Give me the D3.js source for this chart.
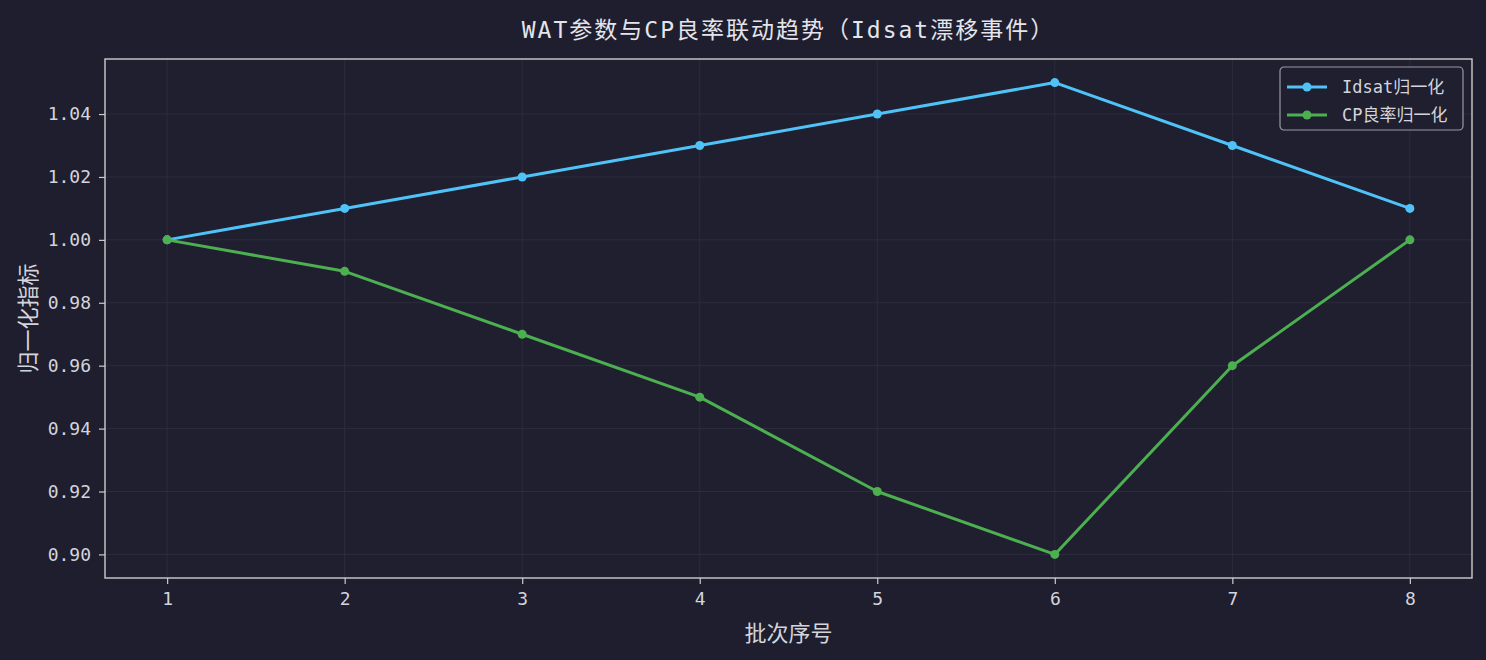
<!DOCTYPE html>
<html>
<head>
<meta charset="utf-8">
<script src="https://cdn.jsdelivr.net/npm/d3@7"></script>
<style>
  html, body { margin: 0; padding: 0; background: #1e1e2e; }
  svg text { font-family: "DejaVu Sans Mono", "Noto Sans CJK SC", sans-serif; }
</style>
</head>
<body>
<div id="chart-area"></div>
<script>
// data
let batches = [1, 2, 3, 4, 5, 6, 7, 8];
let idsatNorm = [1.00, 1.01, 1.02, 1.03, 1.04, 1.05, 1.03, 1.01];
let cpYieldNorm = [1.00, 0.99, 0.97, 0.95, 0.92, 0.90, 0.96, 1.00];
let yTicks = [0.90, 0.92, 0.94, 0.96, 0.98, 1.00, 1.02, 1.04];
let seriesNames = ['Idsat归一化', 'CP良率归一化'];
let seriesColors = ['#4fc3f7', '#4caf50'];

//**************** Canvas *****************//
let W = 1486, H = 660;
let margin = { left: 105, right: 14, top: 59, bottom: 82 };
let width = W - margin.left - margin.right,
    height = H - margin.top - margin.bottom;

let svg = d3.select('#chart-area').append('svg')
  .attr('width', W)
  .attr('height', H);

svg.append('rect').attr('width', W).attr('height', H).attr('fill', '#1e1e2e');

let g = svg.append('g')
  .attr('transform', 'translate(' + margin.left + ', ' + margin.top + ')');

g.append('rect').attr('width', width).attr('height', height).attr('fill', '#1f1f2f');

//**************** Scales *****************//
let x = d3.scaleLinear().domain([0.65, 8.35]).range([0, width]);
let y = d3.scaleLinear().domain([0.8925, 1.0575]).range([height, 0]);

// grid
g.append('g').selectAll('line').data(batches).enter().append('line')
  .attr('x1', d => x(d)).attr('x2', d => x(d))
  .attr('y1', 0).attr('y2', height)
  .attr('stroke', '#2c2c3e').attr('stroke-width', 1);
g.append('g').selectAll('line').data(yTicks).enter().append('line')
  .attr('x1', 0).attr('x2', width)
  .attr('y1', d => y(d)).attr('y2', d => y(d))
  .attr('stroke', '#2c2c3e').attr('stroke-width', 1);

// axes
let xAxis = g.append('g')
  .attr('transform', 'translate(0, ' + height + ')')
  .call(d3.axisBottom(x).tickValues(batches).tickFormat(d3.format('d')).tickSizeOuter(0).tickSize(6).tickPadding(8));
let yAxis = g.append('g')
  .call(d3.axisLeft(y).tickValues(yTicks).tickFormat(d3.format('.2f')).tickSizeOuter(0).tickSize(6).tickPadding(8));

[xAxis, yAxis].forEach(a => {
  a.select('.domain').remove();
  a.selectAll('.tick line').attr('stroke', '#cccccc').attr('stroke-width', 1.2);
  a.selectAll('.tick text').attr('fill', '#d4d4dc').attr('font-size', '18px');
});

// frame
g.append('rect').attr('width', width).attr('height', height)
  .attr('fill', 'none').attr('stroke', '#cccccc').attr('stroke-width', 1.4);

//**************** Lines *****************//
let allSeries = [idsatNorm, cpYieldNorm];
let line = d3.line().x((d, i) => x(batches[i])).y(d => y(d));

allSeries.forEach((s, k) => {
  g.append('path').datum(s)
    .attr('d', line)
    .attr('fill', 'none')
    .attr('stroke', seriesColors[k])
    .attr('stroke-width', 3)
    .attr('stroke-linejoin', 'round');
  g.append('g').selectAll('circle').data(s).enter().append('circle')
    .attr('cx', (d, i) => x(batches[i]))
    .attr('cy', d => y(d))
    .attr('r', 4.5)
    .attr('fill', seriesColors[k]);
});

//**************** Labels *****************//
svg.append('text')
  .attr('x', margin.left + width / 2).attr('y', 38)
  .attr('text-anchor', 'middle')
  .attr('font-size', '23px')
  .attr('letter-spacing', '2px')
  .attr('fill', '#e4e4ec')
  .text('WAT参数与CP良率联动趋势（Idsat漂移事件）');

svg.append('text')
  .attr('x', margin.left + width / 2).attr('y', 641)
  .attr('text-anchor', 'middle')
  .attr('font-size', '22px')
  .attr('fill', '#d4d4dc')
  .text('批次序号');

svg.append('text')
  .attr('transform', 'translate(36, ' + (margin.top + height / 2) + ') rotate(-90)')
  .attr('text-anchor', 'middle')
  .attr('font-size', '22px')
  .attr('fill', '#d4d4dc')
  .text('归一化指标');

//**************** Legend *****************//
let legend = svg.append('g').attr('transform', 'translate(1280, 67)');
legend.append('rect')
  .attr('width', 183).attr('height', 63).attr('rx', 4)
  .attr('fill', '#1f1f2f').attr('stroke', '#9a9aa4').attr('stroke-width', 1.2);

seriesNames.forEach((name, k) => {
  let row = legend.append('g').attr('transform', 'translate(0, ' + (20 + k * 28) + ')');
  row.append('line').attr('x1', 7).attr('x2', 47).attr('y1', 0).attr('y2', 0)
    .attr('stroke', seriesColors[k]).attr('stroke-width', 3);
  row.append('circle').attr('cx', 27).attr('cy', 0).attr('r', 4.5).attr('fill', seriesColors[k]);
  row.append('text').attr('x', 62).attr('y', 6)
    .attr('font-size', '17px').attr('fill', '#d4d4dc')
    .text(name);
});
</script>
</body>
</html>
